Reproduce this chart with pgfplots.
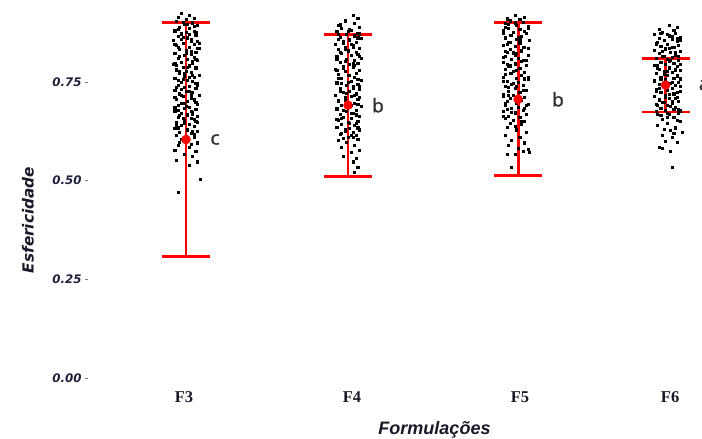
\documentclass[border=0pt]{standalone}
\usepackage{pgfplots}
\pgfplotsset{compat=1.18}
\usepackage{fontspec}
\setmainfont{Liberation Sans}
\newfontfamily\dvs{DejaVu Sans}
\newfontfamily\lsans{Liberation Sans}
\newfontfamily\lserif{Liberation Serif}
\newfontfamily\osans[FakeBold=1.2]{Open Sans}
\definecolor{tickc}{RGB}{30,32,60}
\definecolor{letc}{RGB}{45,45,45}
\definecolor{labc}{RGB}{25,25,40}
\begin{document}
\begin{tikzpicture}
\useasboundingbox (0,0) rectangle (702pt,439pt);
\begin{axis}[
 at={(88pt,61pt)}, anchor=south west,
 scale only axis, width=614pt, height=375.06pt,
 xmin=0.395, xmax=4.185, ymin=0, ymax=0.95,
 axis line style={draw=none},
 clip=false,
 xtick={0.988,2.025,3.062,3.988},
 xticklabels={F3,F4,F5,F6},
 x tick style={draw=none},
 xticklabel style={font=\lserif\bfseries\fontsize{16.5}{18}\selectfont, text=labc, anchor=base, yshift=-22pt},
 ytick={0,0.25,0.5,0.75},
 yticklabels={0.00,0.25,0.50,0.75},
 y tick style={draw=gray, line width=0.6pt},
 tick align=outside, major tick length=3pt,
 yticklabel style={font=\dvs\bfseries\itshape\fontsize{11.8}{13}\selectfont, text=tickc},
]
% F3
\addplot[only marks, mark=square*, mark size=1.05pt, black] table {
x y
0.97 0.925
1.02 0.920
0.95 0.915
1.05 0.912
1.00 0.908
0.94 0.903
1.04 0.900
0.99 0.897
1.07 0.893
0.96 0.889
1.02 0.886
0.93 0.882
1.05 0.879
1.00 0.875
0.97 0.872
1.06 0.869
0.95 0.866
1.01 0.862
1.03 0.858
0.92 0.855
1.07 0.852
0.98 0.849
1.05 0.846
0.94 0.842
1.02 0.839
1.08 0.836
0.96 0.833
1.00 0.829
1.06 0.826
0.93 0.823
1.03 0.820
0.99 0.817
1.05 0.813
0.95 0.810
1.01 0.807
1.07 0.804
0.97 0.800
1.04 0.797
0.92 0.794
1.02 0.791
0.98 0.788
1.06 0.784
0.94 0.781
1.00 0.778
1.03 0.775
0.96 0.771
1.08 0.768
0.99 0.765
1.05 0.762
0.93 0.759
1.01 0.755
1.04 0.752
0.97 0.749
1.07 0.746
0.95 0.742
1.02 0.739
0.99 0.736
1.06 0.733
0.93 0.729
1.00 0.726
1.04 0.723
0.96 0.720
1.08 0.716
0.98 0.713
1.03 0.710
0.94 0.707
1.05 0.703
1.01 0.700
0.97 0.697
1.07 0.694
0.95 0.690
1.02 0.687
0.99 0.684
1.06 0.681
0.93 0.677
1.04 0.674
0.97 0.671
1.01 0.667
1.07 0.664
0.95 0.661
1.03 0.657
0.99 0.654
1.06 0.651
0.94 0.647
1.02 0.644
0.97 0.640
1.05 0.637
0.93 0.633
1.01 0.630
1.07 0.626
0.96 0.623
1.03 0.620
0.94 0.614
1.05 0.609
0.98 0.602
1.07 0.596
0.95 0.590
1.02 0.585
0.93 0.578
1.06 0.574
0.99 0.566
1.04 0.561
0.94 0.552
1.07 0.548
1.02 0.540
1.09 0.503
0.95 0.470
1.01 0.896
0.95 0.884
1.06 0.877
0.98 0.864
1.03 0.853
0.93 0.845
1.07 0.835
1.00 0.822
0.96 0.815
1.04 0.803
0.94 0.793
1.06 0.786
0.99 0.773
1.02 0.763
0.95 0.754
1.07 0.741
0.97 0.731
1.03 0.718
0.93 0.711
1.06 0.698
1.00 0.689
0.95 0.679
1.04 0.669
0.98 0.659
1.07 0.648
0.94 0.639
1.01 0.628
1.05 0.618
0.97 0.606
1.03 0.593
0.98 0.902
1.05 0.890
0.93 0.879
1.02 0.870
0.97 0.858
1.08 0.848
0.95 0.838
1.03 0.828
0.99 0.818
1.06 0.808
0.93 0.797
1.01 0.787
0.96 0.776
1.04 0.766
0.98 0.757
1.06 0.747
0.94 0.737
1.02 0.727
0.97 0.717
1.05 0.707
0.99 0.697
0.93 0.686
1.03 0.676
0.96 0.666
1.05 0.655
0.99 0.645
0.95 0.634
1.04 0.625
1.00 0.612
0.96 0.598
};
% F4
\addplot[only marks, mark=square*, mark size=1.05pt, black] table {
x y
2.03 0.918
2.06 0.912
1.98 0.905
2.04 0.899
1.94 0.893
2.07 0.889
1.96 0.885
2.02 0.881
1.93 0.878
2.06 0.874
1.99 0.871
2.04 0.867
1.95 0.864
2.08 0.860
2.01 0.857
1.97 0.853
2.05 0.850
1.92 0.846
2.03 0.843
1.98 0.839
2.07 0.836
1.94 0.832
2.00 0.829
2.05 0.825
1.96 0.822
2.02 0.818
1.93 0.815
2.08 0.811
1.99 0.808
2.04 0.804
1.95 0.801
2.06 0.797
2.01 0.794
1.97 0.790
2.03 0.787
1.92 0.783
2.07 0.780
1.98 0.776
2.05 0.773
1.94 0.769
2.00 0.766
2.04 0.762
1.96 0.759
2.08 0.755
2.02 0.752
1.93 0.748
2.06 0.745
1.99 0.741
2.03 0.738
1.95 0.734
2.07 0.731
2.01 0.727
1.97 0.724
2.05 0.720
1.92 0.717
2.02 0.713
1.98 0.710
2.06 0.706
1.94 0.703
2.00 0.699
2.04 0.696
1.96 0.692
2.08 0.689
2.01 0.685
1.93 0.682
2.05 0.678
1.99 0.675
2.03 0.671
1.95 0.668
2.07 0.664
1.97 0.661
2.02 0.657
1.94 0.654
2.06 0.650
2.00 0.647
1.96 0.643
2.04 0.640
1.93 0.636
2.01 0.633
2.07 0.629
1.98 0.626
2.03 0.622
1.95 0.618
2.05 0.615
2.00 0.611
1.97 0.607
2.06 0.604
1.99 0.598
2.04 0.590
1.96 0.584
2.07 0.578
2.02 0.571
1.97 0.562
2.05 0.556
2.03 0.548
2.06 0.535
2.04 0.522
2.00 0.878
1.94 0.870
2.06 0.862
1.97 0.848
2.03 0.838
1.95 0.826
2.07 0.814
1.98 0.803
2.04 0.792
1.93 0.779
2.01 0.768
2.06 0.757
1.96 0.746
2.03 0.735
1.99 0.722
2.07 0.711
1.94 0.701
2.02 0.690
1.97 0.679
2.05 0.667
1.93 0.656
2.01 0.645
2.06 0.634
1.96 0.620
2.03 0.609
1.95 0.895
2.01 0.884
2.07 0.872
1.94 0.858
2.02 0.846
1.98 0.834
2.06 0.821
1.93 0.807
2.03 0.796
1.97 0.784
2.05 0.771
1.94 0.760
2.00 0.750
2.07 0.738
1.95 0.727
2.04 0.716
1.98 0.704
2.06 0.693
1.93 0.680
2.02 0.670
1.96 0.658
2.05 0.646
1.98 0.631
2.02 0.616
1.94 0.603
};
% F5
\addplot[only marks, mark=square*, mark size=1.05pt, black] table {
x y
3.03 0.918
3.09 0.914
2.98 0.910
3.00 0.905
3.08 0.902
2.97 0.898
3.04 0.894
3.11 0.891
2.99 0.887
3.06 0.884
2.96 0.880
3.02 0.876
3.10 0.873
3.00 0.869
3.07 0.866
2.97 0.862
3.04 0.858
3.12 0.855
2.99 0.851
3.06 0.847
2.96 0.844
3.03 0.840
3.09 0.837
3.00 0.833
3.07 0.829
2.98 0.826
3.04 0.822
3.11 0.818
2.97 0.815
3.05 0.811
3.01 0.807
3.08 0.804
2.96 0.800
3.03 0.796
3.10 0.793
2.99 0.789
3.06 0.785
2.97 0.782
3.02 0.778
3.09 0.774
3.00 0.771
3.07 0.767
2.96 0.763
3.04 0.760
3.11 0.756
2.98 0.752
3.05 0.749
3.01 0.745
3.08 0.741
2.97 0.738
3.03 0.734
3.10 0.730
2.99 0.727
3.06 0.723
2.96 0.719
3.02 0.716
3.09 0.712
3.00 0.708
3.07 0.705
2.98 0.701
3.04 0.697
3.11 0.694
2.97 0.690
3.05 0.686
3.01 0.683
3.08 0.679
2.96 0.675
3.03 0.672
3.10 0.668
2.99 0.664
3.06 0.661
2.97 0.657
3.02 0.653
3.09 0.650
3.00 0.646
3.07 0.642
2.98 0.636
3.04 0.629
3.10 0.623
2.97 0.616
3.06 0.610
3.01 0.603
3.09 0.596
2.99 0.590
3.05 0.583
3.11 0.580
3.08 0.575
3.12 0.572
2.98 0.566
3.03 0.568
3.01 0.535
3.03 0.900
2.97 0.889
3.09 0.879
3.01 0.868
3.06 0.857
2.98 0.846
3.11 0.835
3.02 0.824
2.96 0.813
3.07 0.802
3.00 0.791
3.04 0.780
2.97 0.769
3.09 0.758
3.02 0.747
2.99 0.736
3.06 0.725
2.96 0.714
3.04 0.703
3.10 0.692
2.98 0.681
3.03 0.670
3.06 0.908
2.99 0.896
3.11 0.885
2.96 0.873
3.05 0.862
3.00 0.850
3.08 0.839
2.97 0.828
3.03 0.817
3.10 0.806
2.98 0.795
3.06 0.784
3.01 0.773
3.11 0.762
2.96 0.751
3.04 0.740
3.08 0.728
2.99 0.717
3.05 0.706
2.97 0.695
3.09 0.684
3.01 0.674
2.96 0.662
3.07 0.650
3.03 0.638
};
% F6
\addplot[only marks, mark=square*, mark size=1.05pt, black] table {
x y
3.98 0.893
4.03 0.889
3.92 0.884
4.01 0.880
3.94 0.876
4.02 0.873
3.89 0.870
3.98 0.867
4.05 0.864
3.92 0.861
4.00 0.858
3.95 0.855
4.03 0.852
3.90 0.849
3.97 0.846
4.04 0.843
3.93 0.840
4.01 0.837
3.96 0.834
3.89 0.831
4.05 0.828
3.99 0.825
3.92 0.822
4.02 0.819
3.95 0.816
4.00 0.813
3.90 0.810
3.97 0.807
4.04 0.804
3.93 0.801
4.01 0.798
3.96 0.795
3.89 0.792
4.03 0.789
3.98 0.786
3.92 0.783
4.05 0.780
3.95 0.777
4.00 0.774
3.90 0.771
3.97 0.768
4.03 0.765
3.93 0.762
4.01 0.759
3.96 0.756
3.89 0.753
4.04 0.750
3.99 0.747
3.92 0.744
4.02 0.741
3.95 0.738
4.00 0.735
3.90 0.732
3.97 0.729
4.05 0.726
3.93 0.723
4.01 0.720
3.96 0.717
3.89 0.714
4.03 0.711
3.98 0.708
3.92 0.705
4.04 0.702
3.95 0.699
4.00 0.696
3.90 0.693
3.97 0.690
4.02 0.687
3.93 0.684
4.01 0.681
3.96 0.678
3.90 0.675
4.04 0.672
3.98 0.669
3.93 0.666
4.01 0.661
3.94 0.655
4.05 0.650
3.97 0.645
3.91 0.640
4.02 0.634
3.99 0.627
4.06 0.622
3.94 0.616
4.00 0.610
3.96 0.600
4.03 0.598
3.92 0.585
3.94 0.582
3.99 0.574
4.00 0.535
3.97 0.871
4.03 0.860
3.91 0.850
4.00 0.838
3.94 0.827
4.04 0.815
3.98 0.803
3.91 0.793
4.02 0.781
3.95 0.770
4.05 0.758
3.99 0.746
3.92 0.735
4.03 0.724
3.96 0.712
4.00 0.701
3.91 0.690
4.04 0.680
3.97 0.670
3.93 0.874
4.00 0.866
4.05 0.856
3.90 0.845
3.98 0.836
4.02 0.825
3.94 0.814
3.99 0.805
4.05 0.795
3.91 0.786
3.97 0.776
4.03 0.768
3.93 0.757
4.00 0.749
4.05 0.738
3.90 0.727
3.98 0.719
4.02 0.709
3.94 0.698
3.99 0.689
4.05 0.677
3.91 0.668
3.97 0.660
4.03 0.652
3.95 0.630
4.01 0.620
};
% means and error bars
\addplot[only marks, red, mark=*, mark size=4.5pt,
  error bars/.cd, y dir=both, y explicit,
  error bar style={red, line width=2.8pt},
  error mark options={red, line width=2.8pt, mark size=24pt, rotate=90}]
 coordinates {
 (1,0.604) +- (0,0.297)
 (2,0.691) +- (0,0.180)
 (3.05,0.706) +- (0,0.194)
 (3.96,0.742) +- (0,0.068)
 };
\node[font=\osans\fontsize{19}{19}\selectfont, text=letc] at (axis cs:1.179,0.604) {c};
\node[font=\osans\fontsize{19}{19}\selectfont, text=letc] at (axis cs:2.185,0.691) {b};
\node[font=\osans\fontsize{19}{19}\selectfont, text=letc] at (axis cs:3.296,0.706) {b};
\node[font=\osans\fontsize{19}{19}\selectfont, text=letc] at (axis cs:4.198,0.742) {a};
\end{axis}
\node[rotate=90, font=\dvs\bfseries\itshape\fontsize{15.3}{16}\selectfont, text=labc] at (28pt,219pt) {Esfericidade};
\node[anchor=base, font=\lsans\bfseries\itshape\fontsize{18}{20}\selectfont, text=labc] at (434.5pt,4.5pt) {Formulações};
\end{tikzpicture}
\end{document}
